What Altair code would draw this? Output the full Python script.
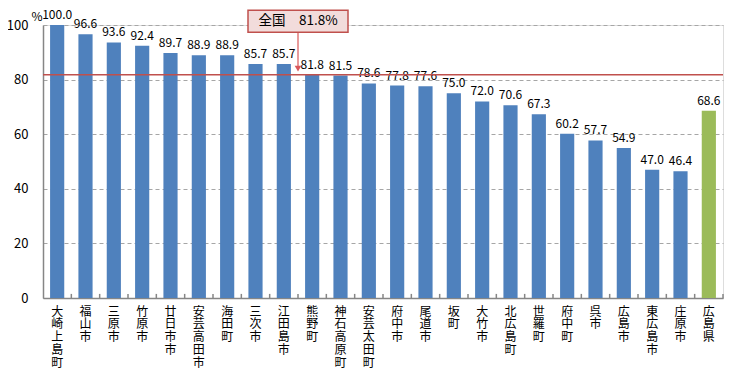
import altair as alt
import pandas as pd

categories = ["大崎上島町", "福山市", "三原市", "竹原市", "廿日市市", "安芸高田市", "海田町",
              "三次市", "江田島市", "熊野町", "神石高原町", "安芸太田町", "府中市", "尾道市",
              "坂町", "大竹市", "北広島町", "世羅町", "府中町", "呉市", "広島市", "東広島市",
              "庄原市", "広島県"]
values = [100.0, 96.6, 93.6, 92.4, 89.7, 88.9, 88.9, 85.7, 85.7, 81.8, 81.5, 78.6, 77.8,
          77.6, 75.0, 72.0, 70.6, 67.3, 60.2, 57.7, 54.9, 47.0, 46.4, 68.6]
kinds = ["市町"] * 23 + ["県"]

national_value = 81.8
national_label = "全国　81.8%"
annot_category = "江田島市"   # annotation sits on the boundary right of this bar
annot_box_y = 101.4
annot_arrow_top = 97.4
annot_arrow_tip = 84.0

FONT = "Noto Sans CJK JP"

df = pd.DataFrame({"cat": categories, "value": values, "kind": kinds})
annot = pd.DataFrame({"cat": [annot_category], "label": [national_label],
                      "yb": [annot_box_y], "y1": [annot_arrow_top], "y2": [annot_arrow_tip]})
nat = pd.DataFrame({"v": [national_value]})

xscale = alt.Scale(paddingInner=0, paddingOuter=0)
xaxis = alt.Axis(title=None, labelAngle=0, labelExpr="split(datum.label, '')",
                 labelBaseline="top", labelLineHeight=12.8, labelFontSize=12,
                 labelFont=FONT, labelColor="#000000", labelPadding=8,
                 ticks=False, domainColor="#868686", domainWidth=1.5, grid=False)


def X(band=None):
    if band is None:
        return alt.X("cat:N", sort=categories, scale=xscale, axis=xaxis)
    return alt.X("cat:N", sort=categories, scale=xscale, axis=xaxis, bandPosition=band)


yscale = alt.Scale(domain=[0, 100], nice=False)
yaxis = alt.Axis(values=[0, 20, 40, 60, 80, 100], title="%", titleAngle=0,
                 titleX=-1, titleY=-9, titleAlign="right", titleBaseline="middle",
                 titleFont=FONT, titleFontSize=12, titleFontWeight="normal",
                 titleColor="#000000",
                 labelFont=FONT, labelFontSize=13, labelColor="#000000", labelPadding=15,
                 ticks=False, domainColor="#868686", domainWidth=1.5,
                 grid=True, gridDash=[4, 3], gridColor="#A6A6A6", gridWidth=1)

bars = alt.Chart(df).mark_bar(width=alt.RelativeBandSize(0.5)).encode(
    x=X(),
    y=alt.Y("value:Q", scale=yscale, axis=yaxis),
    color=alt.Color("kind:N", scale=alt.Scale(domain=["市町", "県"],
                                              range=["#4F81BD", "#9BBB59"]), legend=None),
)

labels = alt.Chart(df).mark_text(baseline="alphabetic", dy=-6, fontSize=12,
                                 font=FONT, color="#000000").encode(
    x=X(),
    y=alt.Y("value:Q", scale=yscale),
    text=alt.Text("value:Q", format=".1f"),
)

ticks = alt.Chart(df).mark_rule(color="#868686", strokeWidth=1.5).encode(
    x=X(1),
    y=alt.datum(0, scale=yscale),
    y2=alt.datum(1.5),
)

natline = alt.Chart(nat).mark_rule(color="#C0504D", strokeWidth=1.5).encode(
    y=alt.Y("v:Q", scale=yscale),
)

arrow = alt.Chart(annot).mark_rule(color="#E07A7A", strokeWidth=1.5).encode(
    x=X(1),
    y=alt.Y("y1:Q", scale=yscale),
    y2="y2:Q",
)

arrowhead = alt.Chart(annot).mark_point(shape="triangle-down", filled=True, size=45,
                                        color="#D9575A", opacity=1).encode(
    x=X(1),
    y=alt.Y("y2:Q", scale=yscale),
)

box = alt.Chart(annot).mark_point(shape="M-1,-0.22H1V0.22H-1Z", size=10000, filled=False,
                                  fill="#F2DCDB", fillOpacity=1, stroke="#C0504D",
                                  strokeWidth=1.5, opacity=1).encode(
    x=X(1),
    y=alt.Y("yb:Q", scale=yscale),
)

boxtext = alt.Chart(annot).mark_text(fontSize=13.5, font=FONT, color="#000000",
                                     baseline="middle", align="center").encode(
    x=X(1),
    y=alt.Y("yb:Q", scale=yscale),
    text="label:N",
)

chart = alt.layer(bars, labels, ticks, natline, arrow, arrowhead, box, boxtext).properties(
    width=680, height=273,
    autosize=alt.AutoSizeParams(type="none"),
    padding={"left": 35, "top": 17, "right": 25, "bottom": 80},
).configure_view(stroke=None).configure(background="#ffffff")

chart.save("out.html", embed_options={"renderer": "svg", "actions": False})
